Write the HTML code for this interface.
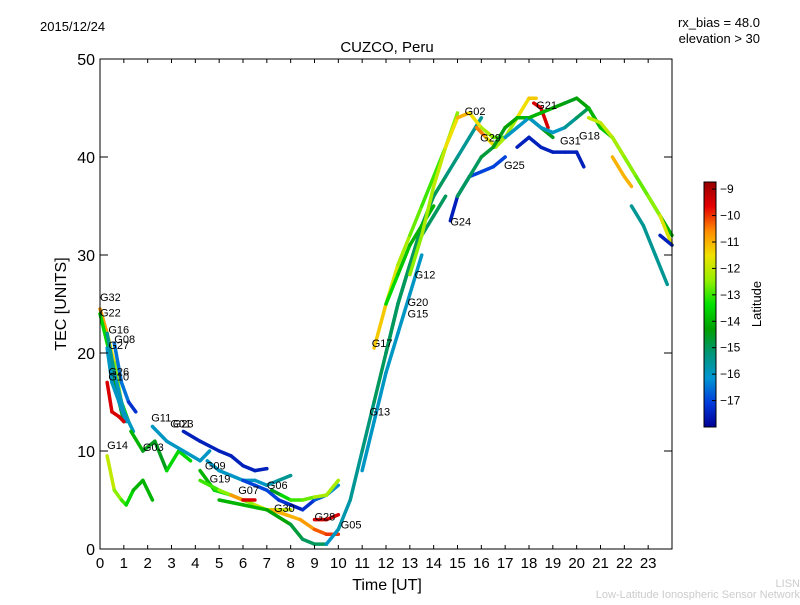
<!DOCTYPE html>
<html><head><meta charset="utf-8"><style>
body{margin:0;background:#fff}
svg text{font-family:"Liberation Sans","DejaVu Sans",sans-serif}
</style></head><body>
<svg id="c" width="800" height="600" xmlns="http://www.w3.org/2000/svg">
<rect width="800" height="600" fill="#fff"/>
<text x="40" y="31" font-size="13">2015/12/24</text>
<text x="760" y="27" font-size="13" text-anchor="end">rx_bias = 48.0</text>
<text x="760" y="43" font-size="13" text-anchor="end">elevation &gt; 30</text>
<text x="387" y="52" font-size="15" text-anchor="middle">CUZCO, Peru</text>
<g id="tracks"></g>
<g id="labels"></g>
<rect x="100" y="59" width="572" height="490" fill="none" stroke="#000" stroke-width="1"/>
<g id="axes"></g>
<text x="387" y="590" font-size="16" text-anchor="middle">Time [UT]</text>
<text transform="translate(66,304) rotate(-90)" font-size="16" text-anchor="middle">TEC [UNITS]</text>
<g id="cbar"></g>
<text transform="translate(761,304) rotate(-90)" font-size="13" text-anchor="middle">Latitude</text>
<text x="800" y="587" font-size="11" fill="#ccc" text-anchor="end">LISN</text>
<text x="800" y="598" font-size="11" fill="#ccc" text-anchor="end">Low-Latitude Ionospheric Sensor Network</text>
</svg>
<script>
const xTicks=[0,1,2,3,4,5,6,7,8,9,10,11,12,13,14,15,16,17,18,19,20,21,22,23];
const yTicks=[0,10,20,30,40,50];
const cbTicks=[-9,-10,-11,-12,-13,-14,-15,-16,-17];
const trackNames=["G32","G22","G16","G08","G27","G26","G14","G03","G11","G01","G09","G19","G07","G06","G06b","G30","G30b","G28","G05","G17","G13","G15","G12","G24","G24b","G02","G29","G21","G25","G31","G18","G18b","G18c","G18d","G18e"];
const trackT=[
[0,0.3,0.6,0.9,1.2],[0,0.4,0.8,1.0],[0.3,0.6,1.0,1.4],[0.6,0.9,1.2,1.5],[0.3,0.5,0.8,1.1],[0.3,0.5,0.8,1.0],
[0.3,0.6,0.9,1.1,1.4,1.8,2.2],[1.3,1.8,2.3,2.8,3.3,3.8],[2.2,2.8,3.5,4.2,4.6],[3.5,4.2,5,5.5,6,6.5,7],
[4.5,5,5.5,6,6.5,7,7.5,8],[4.2,4.8,5.5,6,6.5,7,7.5,8],[4.2,5,5.5,6,6.5],[6,6.5,7,7.5,8,8.5,9,9.5,10],
[7.2,7.6,8,8.5,9,9.5,10],[7.2,7.8,8.4,9,9.5,10],[5,6,7,8,8.5,9,9.5],[9,9.5,10],
[9.5,10,10.5,11,11.5,12,12.5,13,13.5,14,14.5,15,15.5,16],[11.5,12,12.5,13,13.5,14,14.5,15],
[11,11.5,12,12.5,13,13.5],[12,12.5,13,13.5,14,14.5],[12,12.5,13,13.5,14],[14.7,15,15.5,16,16.5,17],
[17.5,18,18.5,19,19.5,20,20.3],[13,13.5,14,14.5,15,15.5,16,16.5,17],[15.8,16.2,16.6,17,17.5,18,18.3],
[18.2,18.5,18.8],[15,15.5,16,16.5,17,17.5,18,18.5,19],[17,17.5,18,18.5,19,19.5,20,20.5,21],
[18,18.5,19,19.5,20,20.5,21,21.5,22,22.5,23,23.5,24],[20.5,21,21.5,22,22.5,23,23.5,24],
[22.3,22.8,23.3,23.8],[23.5,24],[21.5,22,22.3]];
const trackTec=[
[24.5,22,19,15,13],[24,20,15,13],[22,18,14,12],[21,17,15,14],[20.5,17,15,13],[17,14,13.5,13],
[9.5,6,5,4.5,6,7,5],[12,10,11,8,10,9],[12.5,11,10,9,10],[12,11,10,9.5,8.5,8,8.2],
[9,8,7.5,7,7,6.5,7,7.5],[8,6,5.5,5,4.5,4,4,4],[7,6,5.5,5,5],[7,6.5,6,5,4.5,4,5,5.5,6.5],
[6,5.5,5,5,5.3,5.5,7],[4,3.5,3,2,1.5,1.5],[5,4.5,4,2.5,1,0.5,0.5],[3,3,3.5],
[0.5,2,5,10,15,20,25,29,33,36,38,40,42,44],[20.5,25,29,32,35,38,41,44.5],
[8,13,18,22,26,30],[20,25,29,32,34,36],[25,28,31,33,35],[33.5,36,38,38.5,39,40],
[41,42,41,40.5,40.5,40.5,39],[28,32,37,41,44,44.5,43,42,42],[43,42,41,42,44,46,46],
[45.5,45,43],[36,38,40,41,43,44,44,43,42],[42,43,44,43,42.5,43,44,45,43],
[44,44.5,45,45.5,46,45,43,42,40,38,36,34,32],[44,43.5,42,40,38,36,34,31],
[35,33,30,27],[32,31],[40,38,37]];
const trackLat=[
[-10.5,-11,-12,-13,-14],[-13,-14,-14.5,-15],[-15,-16,-16,-16],[-17,-16,-17,-17.5],[-16,-16,-16,-16],[-9.5,-9.5,-9.5,-9.5],
[-12,-12,-13,-13,-14,-14,-14],[-14,-14,-15,-14,-13,-14],[-16,-16,-16,-16,-16],[-17.5,-17.5,-17.5,-17.5,-17.5,-17.5,-17.5],
[-16,-16,-16,-16,-16,-16,-15.5,-15.5],[-14,-14,-13,-13,-12,-12,-12,-12],[-13,-13,-12,-9.5,-9.5],[-17,-17,-17,-17,-17.5,-17.5,-17,-16.5,-16],
[-15,-14,-13,-13,-12.5,-12,-12.5],[-11,-11,-11,-10.5,-10,-10],[-14,-14,-14,-14.5,-15,-15,-15],[-9.5,-9.5,-9.5],
[-16,-16,-15.5,-15.5,-15,-15,-15,-15,-15,-15,-15,-15.5,-15.5,-15.5],[-11,-11.5,-12,-12.5,-13,-13,-13,-12],
[-16,-16,-16,-16,-16,-16],[-15,-15,-15,-15,-15,-15],[-13.5,-13.5,-14,-14,-14],[-17.5,-17.5,-17,-17,-17,-17],
[-17.5,-17.5,-17.5,-17.5,-17.5,-17.5,-17.5],[-12.5,-12.5,-12,-12,-11,-11,-12,-12.5,-13],[-10,-11,-12,-12.5,-12,-11,-11.5],
[-9.5,-9.5,-9.5],[-15,-15,-15,-14.5,-14.5,-14,-14,-14.5,-14.5],[-16,-16,-16,-16,-16,-16,-15,-15,-15],
[-14,-14,-14,-14.5,-14.5,-14,-14,-13.5,-13.5,-13,-13,-14,-14],[-12,-12,-12,-12.5,-12.5,-13,-12,-11.5],
[-15.5,-15.5,-15.5,-15.5],[-17.5,-17.5],[-11,-11,-11]];
const labelNames=["G32","G22","G16","G08","G27","G26","G10","G14","G11","G03","G01","G23","G09","G19","G07","G06","G30","G28","G05","G17","G13","G15","G20","G12","G24","G02","G29","G25","G21","G31","G18"];
const labelT=[0,0,0.35,0.6,0.35,0.35,0.35,0.3,2.15,1.8,2.95,3.05,4.4,4.6,5.8,7.0,7.3,9.0,10.1,11.4,11.3,12.9,12.9,13.2,14.7,15.3,15.95,16.95,18.3,19.3,20.1];
const labelTec=[25.3,23.7,22,21,20.4,17.7,17.2,10.2,13,10,12.4,12.4,8.1,6.8,5.6,6.1,3.8,2.9,2.1,20.6,13.6,23.6,24.8,27.6,33,44.3,41.6,38.8,44.9,41.3,41.8];

const SVGNS="http://www.w3.org/2000/svg";
const X0=100,X1=672,Y0=549,Y1=59;
const xs=t=>X0+(X1-X0)*t/24;
const ys=v=>Y0-(Y0-Y1)*v/50;
const LMAX=-8.73,LMIN=-18.0,CB0=427,CB1=182;
const cbY=l=>CB0-(CB0-CB1)*(l-LMIN)/(LMAX-LMIN);
const STOPS=[[150,0,0],[230,0,0],[255,140,0],[240,225,0],[150,240,0],[0,225,0],[0,160,0],[0,150,120],[0,150,210],[0,60,220],[0,0,150]];
function jet(l){
  const p=Math.max(0,Math.min(1,(LMAX-l)/(LMAX-LMIN)))*(STOPS.length-1);
  const i=Math.min(STOPS.length-2,Math.floor(p)),f=p-i;
  const a=STOPS[i],b=STOPS[i+1];
  return `rgb(${Math.round(a[0]+(b[0]-a[0])*f)},${Math.round(a[1]+(b[1]-a[1])*f)},${Math.round(a[2]+(b[2]-a[2])*f)})`;
}
function mk(tag,attrs,parent){const e=document.createElementNS(SVGNS,tag);for(const k in attrs)e.setAttribute(k,attrs[k]);parent.appendChild(e);return e;}

const gT=document.getElementById('tracks');
trackT.forEach((ts,i)=>{
  const g=mk('g',{},gT);
  
  
  for(let j=0;j<ts.length-1;j++){
    const l=mk('line',{x1:xs(ts[j]),y1:ys(trackTec[i][j]),x2:xs(ts[j+1]),y2:ys(trackTec[i][j+1]),stroke:jet((trackLat[i][j]+trackLat[i][j+1])/2),'stroke-width':3.5,'stroke-linecap':'round'},g);
    
    
  }
});
const gL=document.getElementById('labels');
labelNames.forEach((n,i)=>{
  const t=mk('text',{x:xs(labelT[i]),y:ys(labelTec[i]),'font-size':11},gL);
  t.textContent=n;
  
  
});
const gA=document.getElementById('axes');
xTicks.forEach(v=>{
  const x=xs(v);
  const a=mk('line',{x1:x,y1:Y0,x2:x,y2:Y0-4,stroke:'#000'},gA);
  
  mk('line',{x1:x,y1:Y1,x2:x,y2:Y1+4,stroke:'#000'},gA);
  const t=mk('text',{x:x,y:568,'font-size':15,'text-anchor':'middle'},gA);
  t.textContent=v;
  
});
yTicks.forEach(v=>{
  const y=ys(v);
  const a=mk('line',{x1:X0,y1:y,x2:X0+8,y2:y,stroke:'#000'},gA);
  
  mk('line',{x1:X1,y1:y,x2:X1-8,y2:y,stroke:'#000'},gA);
  const t=mk('text',{x:95,y:y+6,'font-size':16,'text-anchor':'end'},gA);
  t.textContent=v;
  
});
const gC=document.getElementById('cbar');
for(let y=CB1;y<CB0;y++){
  const l=LMIN+(LMAX-LMIN)*(CB0-y-0.5)/(CB0-CB1);
  mk('rect',{x:704,y:y,width:12,height:1.2,fill:jet(l)},gC);
}
mk('rect',{x:704,y:CB1,width:12,height:CB0-CB1,fill:'none',stroke:'#000'},gC);
cbTicks.forEach(v=>{
  const y=cbY(v);
  mk('line',{x1:712,y1:y,x2:716,y2:y,stroke:'#000'},gC);
  const t=mk('text',{x:720,y:y+4,'font-size':12},gC);
  t.textContent='\u2212'+Math.abs(v);
  
});
</script>
</body></html>
